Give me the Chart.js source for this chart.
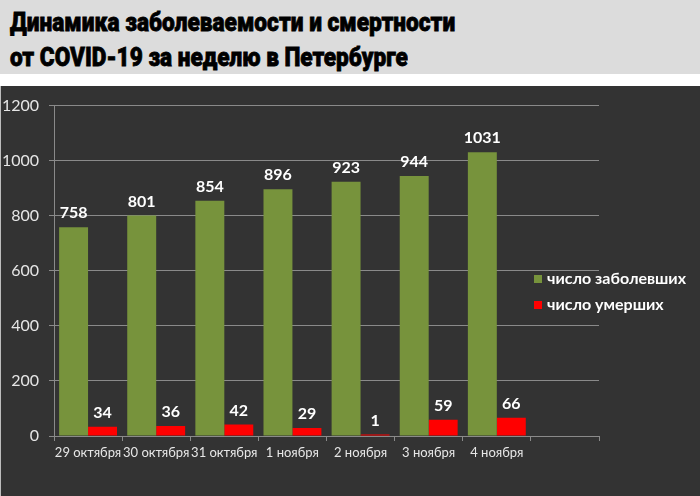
<!DOCTYPE html>
<html>
<head>
<meta charset="utf-8">
<script src="https://cdn.jsdelivr.net/npm/chart.js@4"></script>
<style>
  html, body { margin: 0; padding: 0; width: 700px; height: 496px; overflow: hidden; background: #fff; }
  .head { height: 74px; background: #dcdcdc; position: relative; }
  .head div { position: absolute; left: 10px; font-family: Roboto, sans-serif; font-weight: 900; font-size: 26px; color: #000; white-space: nowrap; transform-origin: 0 0; line-height: 30px; -webkit-text-stroke: 0.8px #000; }
  .wrap { position: absolute; top: 86px; left: 0; width: 700px; height: 410px; background: #333333; border-left: 1px solid #bdbdbd; box-sizing: border-box; }
</style>
</head>
<body>
<div class="head">
  <div id="t1" style="top:7px" data-w="445">Динамика заболеваемости и смертности</div>
  <div id="t2" style="top:42px" data-w="398">от COVID-19 за неделю в Петербурге</div>
</div>
<div class="wrap"><canvas id="myChart" width="700" height="410"></canvas></div>
<script>
// squeeze the title lines like the condensed font of the original
document.querySelectorAll('.head div').forEach(function (el) {
  var w = el.offsetWidth;
  el.style.transform = 'scaleX(' + (el.dataset.w / w) + ')';
});

var days = ['29 октября', '30 октября', '31 октября', '1 ноября', '2 ноября', '3 ноября', '4 ноября', ''];
var sick = [758, 801, 854, 896, 923, 944, 1031, null];
var dead = [34, 36, 42, 29, 1, 59, 66, null];
var seriesNames = ['число заболевших', 'число умерших'];
var yTicks = [0, 200, 400, 600, 800, 1000, 1200];

// values above the bars
var valueLabels = {
  id: 'valueLabels',
  afterDatasetsDraw: function (chart) {
    var ctx = chart.ctx;
    ctx.save();
    ctx.font = 'bold 16px Lato';
    ctx.fillStyle = '#ffffff';
    ctx.textAlign = 'center';
    ctx.textBaseline = 'bottom';
    chart.data.datasets.forEach(function (ds, i) {
      chart.getDatasetMeta(i).data.forEach(function (bar, j) {
        if (ds.data[j] == null) return;
        ctx.fillText(ds.data[j], bar.x, bar.y - 6);
      });
    });
    ctx.restore();
  }
};

// legend sitting on the right, over the empty category
var sideLegend = {
  id: 'sideLegend',
  afterDraw: function (chart) {
    var ctx = chart.ctx;
    ctx.save();
    ctx.font = 'bold 16px Lato';
    ctx.textBaseline = 'middle';
    chart.data.datasets.forEach(function (ds, i) {
      var y = 193 + i * 26;
      ctx.fillStyle = ds.backgroundColor;
      ctx.fillRect(533, y - 4, 8, 8);
      ctx.fillStyle = '#ffffff';
      ctx.fillText(ds.label, 546, y);
    });
    ctx.restore();
  }
};

const ctx = document.getElementById('myChart').getContext('2d');
const myChart = new Chart(ctx, {
  type: 'bar',
  data: {
    labels: days,
    datasets: [{
      label: seriesNames[0],
      data: sick,
      backgroundColor: '#77933c'
    }, {
      label: seriesNames[1],
      data: dead,
      backgroundColor: '#ff0000',
      minBarLength: 1.5
    }]
  },
  options: {
    responsive: false,
    animation: false,
    layout: { padding: { top: 17, right: 102, left: 0, bottom: 0 } },
    datasets: { bar: { categoryPercentage: 0.85, barPercentage: 1 } },
    plugins: {
      legend: { display: false },
      tooltip: { enabled: false }
    },
    scales: {
      x: {
        grid: { offset: true, drawOnChartArea: false, drawTicks: true, tickLength: 5, color: '#8a8a8a' },
        border: { display: true, color: '#8a8a8a' },
        ticks: { color: '#e6e6e6', font: { family: 'Lato', size: 13 }, padding: 4, maxRotation: 0, autoSkip: false },
        afterFit: function (scale) { scale.height = 60; }
      },
      y: {
        min: 0,
        max: 1200,
        afterBuildTicks: function (scale) { scale.ticks = yTicks.map(function (v) { return { value: v }; }); },
        grid: { color: '#8a8a8a', tickLength: 5 },
        border: { display: true, color: '#8a8a8a' },
        ticks: { color: '#e6e6e6', font: { family: 'Lato', size: 16 }, padding: 10, callback: function (v) { return String(v); } },
        afterFit: function (scale) { scale.width = 53; }
      }
    }
  },
  plugins: [valueLabels, sideLegend]
});
</script>
</body>
</html>
